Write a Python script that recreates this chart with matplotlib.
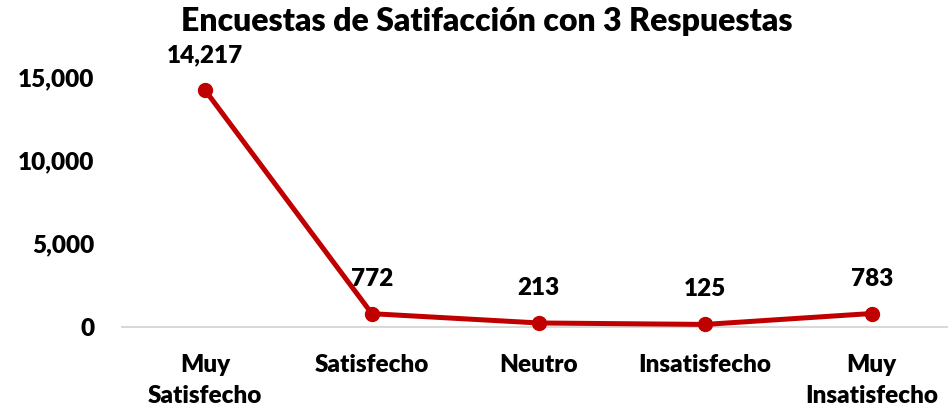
import matplotlib.pyplot as plt
from matplotlib.ticker import FuncFormatter

# Datos
categorias = ["Muy\nSatisfecho", "Satisfecho", "Neutro", "Insatisfecho", "Muy\nInsatisfecho"]
respuestas = [14217, 772, 213, 125, 783]
y_ticks = [0, 5000, 10000, 15000]

plt.rcParams['font.family'] = ['Lato', 'DejaVu Sans']
plt.rcParams['font.weight'] = 'heavy'

W, H = 948, 415
fig = plt.figure(figsize=(W / 100, H / 100), dpi=100)

# plot area in pixels: x 122..954, y (0 at 326, 16000 at ~60)
left, right = 122, 955
bottom_px = 326.5
top_px = 326.5 - 16000 * 83 / 5000
ax = fig.add_axes([left / W, 1 - bottom_px / H, (right - left) / W, (bottom_px - top_px) / H])

x = list(range(len(categorias)))
ax.plot(x, respuestas, color="#C00000", linewidth=3.6, marker="o", markersize=10,
        solid_capstyle="round", clip_on=False, zorder=3)

for xi, v in zip(x, respuestas):
    ax.annotate(f"{v:,}", (xi, v), xytext=(0, 24), textcoords="offset pixels",
                ha="center", va="bottom", fontsize=17.5, fontweight="heavy", color="black")

ax.set_xlim(-0.5, len(categorias) - 0.5)
ax.set_ylim(0, 16000)
ax.set_yticks(y_ticks)
ax.yaxis.set_major_formatter(FuncFormatter(lambda v, p: f"{int(v):,}"))
ax.set_xticks(x)
ax.set_xticklabels(categorias, fontsize=17.5, fontweight="heavy", linespacing=1.5)

for s in ["top", "right", "left"]:
    ax.spines[s].set_visible(False)
ax.spines["bottom"].set_color("#D9D9D9")
ax.spines["bottom"].set_linewidth(1.5)
ax.tick_params(axis="both", length=0, labelsize=17.5)
ax.tick_params(axis="x", pad=20)
ax.tick_params(axis="y", pad=20)
for lab in ax.get_yticklabels():
    lab.set_fontweight("heavy")

fig.text(487 / W, 1 - 22 / H, "Encuestas de Satifacción con 3 Respuestas", ha="center", va="center",
         fontsize=23, fontweight="heavy")

fig.savefig("out.png", dpi=100)
